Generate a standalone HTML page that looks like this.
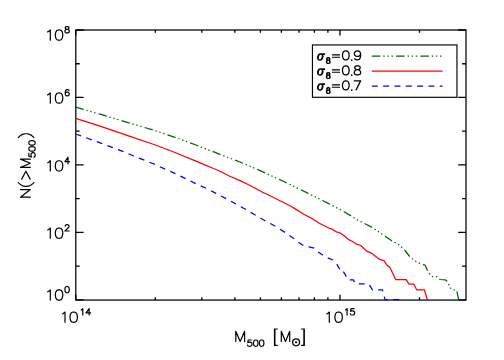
<!DOCTYPE html>
<html><head><meta charset="utf-8"><title>N(&gt;M500)</title>
<style>
html,body{margin:0;padding:0;background:#fff;}
body{width:504px;height:360px;overflow:hidden;font-family:"Liberation Sans",sans-serif;}
svg{display:block;}
</style></head><body>
<svg width="504" height="360" viewBox="0 0 504 360" role="img" aria-label="N(&gt;M500) versus M500 [Msun] for sigma8 = 0.9, 0.8, 0.7">
<title>N(&gt;M500) vs M500 [M⊙]</title>
<desc>Log-log chart. X axis: M500 [M⊙] from 10^14 to 3x10^15. Y axis: N(&gt;M500) from 10^0 to 10^8. Legend: σ8=0.9 (green dash-dot-dot-dot), σ8=0.8 (red solid), σ8=0.7 (blue dashed).</desc>
<rect x="0" y="0" width="504" height="360" fill="#fff"/>
<rect x="75.8" y="30.0" width="390.2" height="270.05" fill="none" stroke="#000" stroke-width="1.25"/>
<path d="M75.8 299.85h7.8M466.0 299.85h-7.8M75.8 266.12h3.9M466.0 266.12h-3.9M75.8 232.39000000000004h7.8M466.0 232.39000000000004h-7.8M75.8 198.66000000000003h3.9M466.0 198.66000000000003h-3.9M75.8 164.93000000000004h7.8M466.0 164.93000000000004h-7.8M75.8 131.20000000000005h3.9M466.0 131.20000000000005h-3.9M75.8 97.47000000000003h7.8M466.0 97.47000000000003h-7.8M75.8 63.74000000000004h3.9M466.0 63.74000000000004h-3.9M75.8 30.010000000000048h7.8M466.0 30.010000000000048h-7.8M155.32 300.05v-2.7M155.32 30.0v2.7M201.84 300.05v-2.7M201.84 30.0v2.7M234.84 300.05v-2.7M234.84 30.0v2.7M260.44 300.05v-2.7M260.44 30.0v2.7M281.36 300.05v-2.7M281.36 30.0v2.7M299.04 300.05v-2.7M299.04 30.0v2.7M314.36 300.05v-2.7M314.36 30.0v2.7M327.88 300.05v-2.7M327.88 30.0v2.7M339.96 300.05v-5.4M339.96 30.0v5.4M419.48 300.05v-2.7M419.48 30.0v2.7M75.8 300.05v-5.4M75.8 30.0v5.4" stroke="#000" stroke-width="1.3" fill="none"/>
<defs><clipPath id="c"><rect x="75.8" y="30" width="390.2" height="270.8"/></clipPath></defs>
<g clip-path="url(#c)" fill="none" stroke-width="1.25" stroke-linejoin="round">
<polyline points="75.80,107.20 100.00,114.20 130.00,123.20 154.00,130.30 175.00,137.30 196.00,145.00 220.00,154.30 240.00,162.00 250.00,166.30 261.10,171.10 283.30,181.30 294.40,186.70 306.70,192.60 326.70,202.60 342.50,210.80 351.70,216.30 358.00,220.30 365.00,223.80 372.50,227.50 379.20,232.20 385.80,236.70 391.70,240.80 398.70,244.50 402.00,247.50 405.00,250.50 409.70,256.50 412.50,259.00 416.50,261.80 420.00,263.40 423.00,264.60 425.00,265.00 427.50,270.60 429.40,273.50 432.50,276.50 437.00,276.50 440.00,279.50 445.60,279.90 447.00,281.20 448.50,283.90 450.40,287.90 453.00,289.75 456.50,289.90 458.75,299.60 466.00,299.60" stroke="#006400" stroke-dasharray="8.5 2.9 1.35 2.7 1.35 2.7 1.35 3.2" stroke-dashoffset="0.4"/>
<polyline points="75.80,118.30 100.00,126.20 130.00,136.30 154.00,144.50 175.00,152.50 196.00,161.20 204.00,164.60 212.50,168.00 220.00,171.20 229.30,176.00 240.00,180.60 250.00,185.50 262.20,192.00 270.00,195.70 280.00,200.70 290.00,205.80 296.00,209.40 303.80,214.30 312.70,218.90 319.30,223.30 329.30,228.30 331.60,228.90 337.10,232.20 340.40,233.10 345.40,236.70 348.20,239.40 352.00,241.30 356.70,244.20 360.80,245.50 366.70,251.20 371.70,253.30 379.20,259.20 384.20,260.80 386.90,265.10 390.00,267.60 395.60,279.60 406.25,279.60 409.00,284.20 414.00,284.20 416.60,289.80 424.40,289.80 427.40,300.00" stroke="#ff0000"/>
<polyline points="75.80,134.00 80.90,135.80 91.70,139.80 102.20,143.60 112.80,147.60 120.00,150.30 123.90,151.70 134.20,156.20 144.70,160.30 155.00,164.50 165.30,169.20 175.50,173.70 185.80,178.70 195.80,183.70 206.80,188.60 216.80,193.80 226.80,199.00 236.50,204.30 246.30,209.80 256.00,215.50 266.00,221.30 275.80,226.50 285.40,232.70 294.70,239.00 298.80,242.40 303.80,245.80 306.50,246.70 309.00,246.90 314.20,248.10 318.25,251.90 322.90,255.25 328.25,258.10 332.90,260.00 336.60,263.75 339.75,269.40 342.90,269.50 343.50,271.90 346.60,276.90 348.60,277.00 350.00,279.80 353.30,279.90 355.50,283.90 368.70,283.90 372.50,289.80 382.50,289.80 385.00,299.60 399.00,299.60 401.00,310.00" stroke="#0000ff" stroke-dasharray="5.8 5.5" stroke-dashoffset="0.2"/>
</g>
<path d="M47.65 31.90 L48.71 31.42 L50.30 29.95 L50.30 40.20" fill="none" stroke="#000" stroke-width="1.2" stroke-linecap="round" stroke-linejoin="round"/><path d="M58.52 29.95 L56.93 30.44 L55.87 31.90 L55.34 34.34 L55.34 35.81 L55.87 38.25 L56.93 39.71 L58.52 40.20 L59.58 40.20 L61.17 39.71 L62.23 38.25 L62.76 35.81 L62.76 34.34 L62.23 31.90 L61.17 30.44 L59.58 29.95 L58.52 29.95" fill="none" stroke="#000" stroke-width="1.2" stroke-linecap="round" stroke-linejoin="round"/><path d="M66.48 26.60 L65.55 26.90 L65.24 27.50 L65.24 28.10 L65.55 28.70 L66.17 29.00 L67.41 29.30 L68.34 29.60 L68.96 30.20 L69.27 30.80 L69.27 31.70 L68.96 32.30 L68.65 32.60 L67.72 32.90 L66.48 32.90 L65.55 32.60 L65.24 32.30 L64.93 31.70 L64.93 30.80 L65.24 30.20 L65.86 29.60 L66.79 29.30 L68.03 29.00 L68.65 28.70 L68.96 28.10 L68.96 27.50 L68.65 26.90 L67.72 26.60 L66.48 26.60" fill="none" stroke="#000" stroke-width="1.2" stroke-linecap="round" stroke-linejoin="round"/>
<path d="M47.65 94.90 L48.71 94.42 L50.30 92.95 L50.30 103.20" fill="none" stroke="#000" stroke-width="1.2" stroke-linecap="round" stroke-linejoin="round"/><path d="M58.52 92.95 L56.93 93.44 L55.87 94.90 L55.34 97.34 L55.34 98.81 L55.87 101.25 L56.93 102.71 L58.52 103.20 L59.58 103.20 L61.17 102.71 L62.23 101.25 L62.76 98.81 L62.76 97.34 L62.23 94.90 L61.17 93.44 L59.58 92.95 L58.52 92.95" fill="none" stroke="#000" stroke-width="1.2" stroke-linecap="round" stroke-linejoin="round"/><path d="M68.96 90.50 L68.65 89.90 L67.72 89.60 L67.10 89.60 L66.17 89.90 L65.55 90.80 L65.24 92.30 L65.24 93.80 L65.55 95.00 L66.17 95.60 L67.10 95.90 L67.41 95.90 L68.34 95.60 L68.96 95.00 L69.27 94.10 L69.27 93.80 L68.96 92.90 L68.34 92.30 L67.41 92.00 L67.10 92.00 L66.17 92.30 L65.55 92.90 L65.24 93.80" fill="none" stroke="#000" stroke-width="1.2" stroke-linecap="round" stroke-linejoin="round"/>
<path d="M47.65 162.70 L48.71 162.22 L50.30 160.75 L50.30 171.00" fill="none" stroke="#000" stroke-width="1.2" stroke-linecap="round" stroke-linejoin="round"/><path d="M58.52 160.75 L56.93 161.24 L55.87 162.70 L55.34 165.14 L55.34 166.61 L55.87 169.05 L56.93 170.51 L58.52 171.00 L59.58 171.00 L61.17 170.51 L62.23 169.05 L62.76 166.61 L62.76 165.14 L62.23 162.70 L61.17 161.24 L59.58 160.75 L58.52 160.75" fill="none" stroke="#000" stroke-width="1.2" stroke-linecap="round" stroke-linejoin="round"/><path d="M68.03 157.40 L64.93 161.60 L69.58 161.60M68.03 157.40 L68.03 163.70" fill="none" stroke="#000" stroke-width="1.2" stroke-linecap="round" stroke-linejoin="round"/>
<path d="M47.65 230.00 L48.71 229.52 L50.30 228.05 L50.30 238.30" fill="none" stroke="#000" stroke-width="1.2" stroke-linecap="round" stroke-linejoin="round"/><path d="M58.52 228.05 L56.93 228.54 L55.87 230.00 L55.34 232.44 L55.34 233.91 L55.87 236.35 L56.93 237.81 L58.52 238.30 L59.58 238.30 L61.17 237.81 L62.23 236.35 L62.76 233.91 L62.76 232.44 L62.23 230.00 L61.17 228.54 L59.58 228.05 L58.52 228.05" fill="none" stroke="#000" stroke-width="1.2" stroke-linecap="round" stroke-linejoin="round"/><path d="M65.24 226.20 L65.24 225.90 L65.55 225.30 L65.86 225.00 L66.48 224.70 L67.72 224.70 L68.34 225.00 L68.65 225.30 L68.96 225.90 L68.96 226.50 L68.65 227.10 L68.03 228.00 L64.93 231.00 L69.27 231.00" fill="none" stroke="#000" stroke-width="1.2" stroke-linecap="round" stroke-linejoin="round"/>
<path d="M47.65 291.80 L48.71 291.32 L50.30 289.85 L50.30 300.10" fill="none" stroke="#000" stroke-width="1.2" stroke-linecap="round" stroke-linejoin="round"/><path d="M58.52 289.85 L56.93 290.34 L55.87 291.80 L55.34 294.24 L55.34 295.71 L55.87 298.15 L56.93 299.61 L58.52 300.10 L59.58 300.10 L61.17 299.61 L62.23 298.15 L62.76 295.71 L62.76 294.24 L62.23 291.80 L61.17 290.34 L59.58 289.85 L58.52 289.85" fill="none" stroke="#000" stroke-width="1.2" stroke-linecap="round" stroke-linejoin="round"/><path d="M66.79 286.50 L65.86 286.80 L65.24 287.70 L64.93 289.20 L64.93 290.10 L65.24 291.60 L65.86 292.50 L66.79 292.80 L67.41 292.80 L68.34 292.50 L68.96 291.60 L69.27 290.10 L69.27 289.20 L68.96 287.70 L68.34 286.80 L67.41 286.50 L66.79 286.50" fill="none" stroke="#000" stroke-width="1.2" stroke-linecap="round" stroke-linejoin="round"/>
<path d="M62.35 314.00 L63.41 313.52 L65.00 312.05 L65.00 322.30" fill="none" stroke="#000" stroke-width="1.2" stroke-linecap="round" stroke-linejoin="round"/><path d="M73.17 312.05 L71.58 312.54 L70.52 314.00 L69.99 316.44 L69.99 317.91 L70.52 320.35 L71.58 321.81 L73.17 322.30 L74.23 322.30 L75.82 321.81 L76.88 320.35 L77.41 317.91 L77.41 316.44 L76.88 314.00 L75.82 312.54 L74.23 312.05 L73.17 312.05" fill="none" stroke="#000" stroke-width="1.2" stroke-linecap="round" stroke-linejoin="round"/><path d="M81.26 309.90 L81.88 309.60 L82.81 308.70 L82.81 315.00" fill="none" stroke="#000" stroke-width="1.2" stroke-linecap="round" stroke-linejoin="round"/><path d="M89.13 308.70 L86.03 312.90 L90.68 312.90M89.13 308.70 L89.13 315.00" fill="none" stroke="#000" stroke-width="1.2" stroke-linecap="round" stroke-linejoin="round"/>
<path d="M326.65 314.00 L327.71 313.52 L329.30 312.05 L329.30 322.30" fill="none" stroke="#000" stroke-width="1.2" stroke-linecap="round" stroke-linejoin="round"/><path d="M338.07 312.05 L336.48 312.54 L335.42 314.00 L334.89 316.44 L334.89 317.91 L335.42 320.35 L336.48 321.81 L338.07 322.30 L339.13 322.30 L340.72 321.81 L341.78 320.35 L342.31 317.91 L342.31 316.44 L341.78 314.00 L340.72 312.54 L339.13 312.05 L338.07 312.05" fill="none" stroke="#000" stroke-width="1.2" stroke-linecap="round" stroke-linejoin="round"/><path d="M345.56 309.90 L346.18 309.60 L347.11 308.70 L347.11 315.00" fill="none" stroke="#000" stroke-width="1.2" stroke-linecap="round" stroke-linejoin="round"/><path d="M354.05 308.70 L350.95 308.70 L350.64 311.40 L350.95 311.10 L351.88 310.80 L352.81 310.80 L353.74 311.10 L354.36 311.70 L354.67 312.60 L354.67 313.20 L354.36 314.10 L353.74 314.70 L352.81 315.00 L351.88 315.00 L350.95 314.70 L350.64 314.40 L350.33 313.80" fill="none" stroke="#000" stroke-width="1.2" stroke-linecap="round" stroke-linejoin="round"/>
<path d="M235.80 331.25 L235.80 341.50M235.80 331.25 L240.20 341.50M244.60 331.25 L240.20 341.50M244.60 331.25 L244.60 341.50" fill="none" stroke="#000" stroke-width="1.2" stroke-linecap="round" stroke-linejoin="round"/>
<path d="M251.36 340.00 L248.14 340.00 L247.82 342.70 L248.14 342.40 L249.11 342.10 L250.07 342.10 L251.04 342.40 L251.68 343.00 L252.00 343.90 L252.00 344.50 L251.68 345.40 L251.04 346.00 L250.07 346.30 L249.11 346.30 L248.14 346.00 L247.82 345.70 L247.50 345.10" fill="none" stroke="#000" stroke-width="1.2" stroke-linecap="round" stroke-linejoin="round"/>
<path d="M255.43 340.00 L254.46 340.30 L253.82 341.20 L253.50 342.70 L253.50 343.60 L253.82 345.10 L254.46 346.00 L255.43 346.30 L256.07 346.30 L257.04 346.00 L257.68 345.10 L258.00 343.60 L258.00 342.70 L257.68 341.20 L257.04 340.30 L256.07 340.00 L255.43 340.00" fill="none" stroke="#000" stroke-width="1.2" stroke-linecap="round" stroke-linejoin="round"/>
<path d="M261.33 340.00 L260.36 340.30 L259.72 341.20 L259.40 342.70 L259.40 343.60 L259.72 345.10 L260.36 346.00 L261.33 346.30 L261.97 346.30 L262.94 346.00 L263.58 345.10 L263.90 343.60 L263.90 342.70 L263.58 341.20 L262.94 340.30 L261.97 340.00 L261.33 340.00" fill="none" stroke="#000" stroke-width="1.2" stroke-linecap="round" stroke-linejoin="round"/>
<path d="M274.50 328.98 L274.50 345.39M274.90 328.98 L274.90 345.39M274.50 328.98 L277.30 328.98M274.50 345.39 L277.30 345.39" fill="none" stroke="#000" stroke-width="1.2" stroke-linecap="round" stroke-linejoin="round"/>
<path d="M281.30 331.25 L281.30 341.50M281.30 331.25 L285.50 341.50M289.70 331.25 L285.50 341.50M289.70 331.25 L289.70 341.50" fill="none" stroke="#000" stroke-width="1.2" stroke-linecap="round" stroke-linejoin="round"/>
<circle cx="296.1" cy="342.35" r="3.45" fill="none" stroke="#000" stroke-width="1.3"/><circle cx="296.1" cy="342.35" r="1.1" fill="#000"/>
<path d="M303.90 328.98 L303.90 345.39M304.30 328.98 L304.30 345.39M301.50 328.98 L304.30 328.98M301.50 345.39 L304.30 345.39" fill="none" stroke="#000" stroke-width="1.2" stroke-linecap="round" stroke-linejoin="round"/>
<g transform="translate(30.35,197.75) rotate(-90)"><path d="M0.60 -9.87 L0.60 0.00M0.60 -9.87 L8.20 0.00M8.20 -9.87 L8.20 0.00" fill="none" stroke="#000" stroke-width="1.2" stroke-linecap="round" stroke-linejoin="round"/><path d="M15.20 -12.00 L14.11 -11.03 L13.03 -9.58 L11.94 -7.64 L11.40 -5.22 L11.40 -3.29 L11.94 -0.87 L13.03 1.07 L14.11 2.52 L15.20 3.49" fill="none" stroke="#000" stroke-width="1.2" stroke-linecap="round" stroke-linejoin="round"/><path d="M18.60 -8.66 L26.50 -4.43 L18.60 -0.20" fill="none" stroke="#000" stroke-width="1.2" stroke-linecap="round" stroke-linejoin="round"/><path d="M30.40 -9.87 L30.40 0.00M30.40 -9.87 L34.50 0.00M38.60 -9.87 L34.50 0.00M38.60 -9.87 L38.60 0.00" fill="none" stroke="#000" stroke-width="1.2" stroke-linecap="round" stroke-linejoin="round"/><path d="M44.46 -1.50 L41.24 -1.50 L40.92 1.20 L41.24 0.90 L42.21 0.60 L43.17 0.60 L44.14 0.90 L44.78 1.50 L45.10 2.40 L45.10 3.00 L44.78 3.90 L44.14 4.50 L43.17 4.80 L42.21 4.80 L41.24 4.50 L40.92 4.20 L40.60 3.60" fill="none" stroke="#000" stroke-width="1.2" stroke-linecap="round" stroke-linejoin="round"/><path d="M48.53 -1.50 L47.56 -1.20 L46.92 -0.30 L46.60 1.20 L46.60 2.10 L46.92 3.60 L47.56 4.50 L48.53 4.80 L49.17 4.80 L50.14 4.50 L50.78 3.60 L51.10 2.10 L51.10 1.20 L50.78 -0.30 L50.14 -1.20 L49.17 -1.50 L48.53 -1.50" fill="none" stroke="#000" stroke-width="1.2" stroke-linecap="round" stroke-linejoin="round"/><path d="M54.53 -1.50 L53.56 -1.20 L52.92 -0.30 L52.60 1.20 L52.60 2.10 L52.92 3.60 L53.56 4.50 L54.53 4.80 L55.17 4.80 L56.14 4.50 L56.78 3.60 L57.10 2.10 L57.10 1.20 L56.78 -0.30 L56.14 -1.20 L55.17 -1.50 L54.53 -1.50" fill="none" stroke="#000" stroke-width="1.2" stroke-linecap="round" stroke-linejoin="round"/><path d="M60.20 -12.00 L61.29 -11.03 L62.37 -9.58 L63.46 -7.64 L64.00 -5.22 L64.00 -3.29 L63.46 -0.87 L62.37 1.07 L61.29 2.52 L60.20 3.49" fill="none" stroke="#000" stroke-width="1.2" stroke-linecap="round" stroke-linejoin="round"/></g>
<rect x="312.45" y="44.95" width="144.5" height="52.35" fill="#fff" stroke="#000" stroke-width="1.15"/>
<path d="M324.50 53.98 L320.25 53.98 L318.97 54.41 L318.12 55.70 L317.70 56.99 L317.70 58.28 L318.12 59.14 L318.55 59.57 L319.40 60.00 L320.25 60.00 L321.52 59.57 L322.38 58.28 L322.80 56.99 L322.80 55.70 L322.38 54.84 L321.95 54.41 L321.10 53.98M320.25 53.98 L319.40 54.41 L318.55 55.70 L318.12 56.99 L318.12 58.71 L318.55 59.57M320.25 60.00 L321.10 59.57 L321.95 58.28 L322.38 56.99 L322.38 55.27 L321.95 54.41M321.95 54.41 L324.50 54.41" fill="none" stroke="#000" stroke-width="1.4" stroke-linecap="round" stroke-linejoin="round"/>
<path d="M327.75 57.73 L327.00 58.00 L326.75 58.54 L326.75 59.35 L327.00 59.89 L327.75 60.16 L328.75 60.16 L329.50 59.89 L329.75 59.35 L329.75 58.54 L329.50 58.00 L328.75 57.73 L327.75 57.73M327.75 57.73 L327.25 58.00 L327.00 58.54 L327.00 59.35 L327.25 59.89 L327.75 60.16M328.75 60.16 L329.25 59.89 L329.50 59.35 L329.50 58.54 L329.25 58.00 L328.75 57.73M327.75 60.16 L327.00 60.43 L326.75 60.70 L326.50 61.24 L326.50 62.32 L326.75 62.86 L327.00 63.13 L327.75 63.40 L328.75 63.40 L329.50 63.13 L329.75 62.86 L330.00 62.32 L330.00 61.24 L329.75 60.70 L329.50 60.43 L328.75 60.16M327.75 60.16 L327.25 60.43 L327.00 60.70 L326.75 61.24 L326.75 62.32 L327.00 62.86 L327.25 63.13 L327.75 63.40M328.75 63.40 L329.25 63.13 L329.50 62.86 L329.75 62.32 L329.75 61.24 L329.50 60.70 L329.25 60.43 L328.75 60.16" fill="none" stroke="#000" stroke-width="1.3" stroke-linecap="round" stroke-linejoin="round"/>
<path d="M332.40 54.85 L339.60 54.85M332.40 57.25 L339.60 57.25" fill="none" stroke="#000" stroke-width="1.15" stroke-linecap="round" stroke-linejoin="round"/>
<path d="M345.33 50.87 L343.91 51.30 L342.97 52.59 L342.50 54.74 L342.50 56.03 L342.97 58.18 L343.91 59.47 L345.33 59.90 L346.27 59.90 L347.69 59.47 L348.63 58.18 L349.10 56.03 L349.10 54.74 L348.63 52.59 L347.69 51.30 L346.27 50.87 L345.33 50.87" fill="none" stroke="#000" stroke-width="1.25" stroke-linecap="round" stroke-linejoin="round"/>
<circle cx="351.75" cy="60.1" r="0.9" fill="#000"/>
<path d="M360.60 53.88 L360.12 55.17 L359.15 56.03 L357.69 56.46 L357.21 56.46 L355.75 56.03 L354.78 55.17 L354.30 53.88 L354.30 53.45 L354.78 52.16 L355.75 51.30 L357.21 50.87 L357.69 50.87 L359.15 51.30 L360.12 52.16 L360.60 53.88 L360.60 56.03 L360.12 58.18 L359.15 59.47 L357.69 59.90 L356.72 59.90 L355.27 59.47 L354.78 58.61" fill="none" stroke="#000" stroke-width="1.25" stroke-linecap="round" stroke-linejoin="round"/>
<line x1="371.8" y1="56.1" x2="442.6" y2="56.1" stroke="#006400" stroke-width="1.25" stroke-dasharray="8.6 2.9 1.4 2.7 1.4 2.7 1.4 3.15"/>
<path d="M324.50 68.98 L320.25 68.98 L318.97 69.41 L318.12 70.70 L317.70 71.99 L317.70 73.28 L318.12 74.14 L318.55 74.57 L319.40 75.00 L320.25 75.00 L321.52 74.57 L322.38 73.28 L322.80 71.99 L322.80 70.70 L322.38 69.84 L321.95 69.41 L321.10 68.98M320.25 68.98 L319.40 69.41 L318.55 70.70 L318.12 71.99 L318.12 73.71 L318.55 74.57M320.25 75.00 L321.10 74.57 L321.95 73.28 L322.38 71.99 L322.38 70.27 L321.95 69.41M321.95 69.41 L324.50 69.41" fill="none" stroke="#000" stroke-width="1.4" stroke-linecap="round" stroke-linejoin="round"/>
<path d="M327.75 72.73 L327.00 73.00 L326.75 73.54 L326.75 74.35 L327.00 74.89 L327.75 75.16 L328.75 75.16 L329.50 74.89 L329.75 74.35 L329.75 73.54 L329.50 73.00 L328.75 72.73 L327.75 72.73M327.75 72.73 L327.25 73.00 L327.00 73.54 L327.00 74.35 L327.25 74.89 L327.75 75.16M328.75 75.16 L329.25 74.89 L329.50 74.35 L329.50 73.54 L329.25 73.00 L328.75 72.73M327.75 75.16 L327.00 75.43 L326.75 75.70 L326.50 76.24 L326.50 77.32 L326.75 77.86 L327.00 78.13 L327.75 78.40 L328.75 78.40 L329.50 78.13 L329.75 77.86 L330.00 77.32 L330.00 76.24 L329.75 75.70 L329.50 75.43 L328.75 75.16M327.75 75.16 L327.25 75.43 L327.00 75.70 L326.75 76.24 L326.75 77.32 L327.00 77.86 L327.25 78.13 L327.75 78.40M328.75 78.40 L329.25 78.13 L329.50 77.86 L329.75 77.32 L329.75 76.24 L329.50 75.70 L329.25 75.43 L328.75 75.16" fill="none" stroke="#000" stroke-width="1.3" stroke-linecap="round" stroke-linejoin="round"/>
<path d="M332.40 69.85 L339.60 69.85M332.40 72.25 L339.60 72.25" fill="none" stroke="#000" stroke-width="1.15" stroke-linecap="round" stroke-linejoin="round"/>
<path d="M345.33 65.87 L343.91 66.30 L342.97 67.59 L342.50 69.74 L342.50 71.03 L342.97 73.18 L343.91 74.47 L345.33 74.90 L346.27 74.90 L347.69 74.47 L348.63 73.18 L349.10 71.03 L349.10 69.74 L348.63 67.59 L347.69 66.30 L346.27 65.87 L345.33 65.87" fill="none" stroke="#000" stroke-width="1.25" stroke-linecap="round" stroke-linejoin="round"/>
<circle cx="351.75" cy="75.10000000000001" r="0.9" fill="#000"/>
<path d="M356.55 65.87 L355.20 66.30 L354.75 67.16 L354.75 68.02 L355.20 68.88 L356.10 69.31 L357.90 69.74 L359.25 70.17 L360.15 71.03 L360.60 71.89 L360.60 73.18 L360.15 74.04 L359.70 74.47 L358.35 74.90 L356.55 74.90 L355.20 74.47 L354.75 74.04 L354.30 73.18 L354.30 71.89 L354.75 71.03 L355.65 70.17 L357.00 69.74 L358.80 69.31 L359.70 68.88 L360.15 68.02 L360.15 67.16 L359.70 66.30 L358.35 65.87 L356.55 65.87" fill="none" stroke="#000" stroke-width="1.25" stroke-linecap="round" stroke-linejoin="round"/>
<line x1="371.8" y1="71.10000000000001" x2="442.6" y2="71.10000000000001" stroke="#ff0000" stroke-width="1.25"/>
<path d="M324.50 83.98 L320.25 83.98 L318.97 84.41 L318.12 85.70 L317.70 86.99 L317.70 88.28 L318.12 89.14 L318.55 89.57 L319.40 90.00 L320.25 90.00 L321.52 89.57 L322.38 88.28 L322.80 86.99 L322.80 85.70 L322.38 84.84 L321.95 84.41 L321.10 83.98M320.25 83.98 L319.40 84.41 L318.55 85.70 L318.12 86.99 L318.12 88.71 L318.55 89.57M320.25 90.00 L321.10 89.57 L321.95 88.28 L322.38 86.99 L322.38 85.27 L321.95 84.41M321.95 84.41 L324.50 84.41" fill="none" stroke="#000" stroke-width="1.4" stroke-linecap="round" stroke-linejoin="round"/>
<path d="M327.75 87.73 L327.00 88.00 L326.75 88.54 L326.75 89.35 L327.00 89.89 L327.75 90.16 L328.75 90.16 L329.50 89.89 L329.75 89.35 L329.75 88.54 L329.50 88.00 L328.75 87.73 L327.75 87.73M327.75 87.73 L327.25 88.00 L327.00 88.54 L327.00 89.35 L327.25 89.89 L327.75 90.16M328.75 90.16 L329.25 89.89 L329.50 89.35 L329.50 88.54 L329.25 88.00 L328.75 87.73M327.75 90.16 L327.00 90.43 L326.75 90.70 L326.50 91.24 L326.50 92.32 L326.75 92.86 L327.00 93.13 L327.75 93.40 L328.75 93.40 L329.50 93.13 L329.75 92.86 L330.00 92.32 L330.00 91.24 L329.75 90.70 L329.50 90.43 L328.75 90.16M327.75 90.16 L327.25 90.43 L327.00 90.70 L326.75 91.24 L326.75 92.32 L327.00 92.86 L327.25 93.13 L327.75 93.40M328.75 93.40 L329.25 93.13 L329.50 92.86 L329.75 92.32 L329.75 91.24 L329.50 90.70 L329.25 90.43 L328.75 90.16" fill="none" stroke="#000" stroke-width="1.3" stroke-linecap="round" stroke-linejoin="round"/>
<path d="M332.40 84.85 L339.60 84.85M332.40 87.25 L339.60 87.25" fill="none" stroke="#000" stroke-width="1.15" stroke-linecap="round" stroke-linejoin="round"/>
<path d="M345.33 80.87 L343.91 81.30 L342.97 82.59 L342.50 84.74 L342.50 86.03 L342.97 88.18 L343.91 89.47 L345.33 89.90 L346.27 89.90 L347.69 89.47 L348.63 88.18 L349.10 86.03 L349.10 84.74 L348.63 82.59 L347.69 81.30 L346.27 80.87 L345.33 80.87" fill="none" stroke="#000" stroke-width="1.25" stroke-linecap="round" stroke-linejoin="round"/>
<circle cx="351.75" cy="90.10000000000001" r="0.9" fill="#000"/>
<path d="M360.60 80.87 L356.10 89.90M354.30 80.87 L360.60 80.87" fill="none" stroke="#000" stroke-width="1.25" stroke-linecap="round" stroke-linejoin="round"/>
<line x1="371.8" y1="86.10000000000001" x2="442.6" y2="86.10000000000001" stroke="#0000ff" stroke-width="1.25" stroke-dasharray="6 5.33"/>
</svg>
</body></html>
